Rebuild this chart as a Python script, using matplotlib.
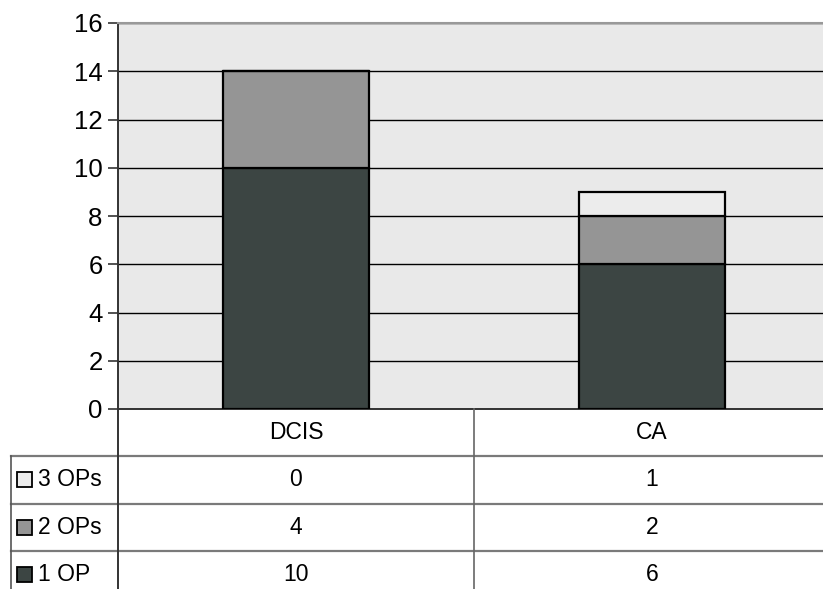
import matplotlib
matplotlib.use("Agg")
import matplotlib.pyplot as plt
from matplotlib.patches import Rectangle
import numpy as np

plt.rcParams['font.family'] = ['Liberation Sans', 'DejaVu Sans']

categories = ["DCIS", "CA"]
series_names = ["1 OP", "2 OPs", "3 OPs"]
one_op = [10, 6]
two_ops = [4, 2]
three_ops = [0, 1]
series_values = [one_op, two_ops, three_ops]
series_colors = ["#3c4543", "#959595", "#ececec"]
y_ticks = [0, 2, 4, 6, 8, 10, 12, 14, 16]

W, H = 823, 589
fig = plt.figure(figsize=(W / 100, H / 100), dpi=100)

# plot area spans two category slots of 356 px each
left_px, slot_px = 118, 356
top_px, zero_px = 23, 409
ax = fig.add_axes([left_px / W, (H - zero_px) / H, 2 * slot_px / W, (zero_px - top_px) / H])
ax.set_facecolor("#e9e9e9")
ax.set_xlim(-0.5, 1.5)
ax.set_ylim(0, 16)
ax.set_yticks(y_ticks)
ax.set_yticklabels([str(t) for t in y_ticks], fontsize=18.5)
ax.set_xticks([])
ax.yaxis.grid(True, color="black", linewidth=1.0)
ax.set_axisbelow(True)
ax.tick_params(axis="y", length=7, width=1.2, color="#333333", pad=4)
ax.spines["right"].set_visible(False)
ax.spines["top"].set_color("#999999")
ax.spines["top"].set_linewidth(1.5)
ax.spines["left"].set_color("#333333")
ax.spines["left"].set_linewidth(1.4)
ax.spines["bottom"].set_color("#333333")
ax.spines["bottom"].set_linewidth(1.4)

x = np.arange(len(categories))
bottom = np.zeros(len(categories))
for vals, color, name in zip(series_values, series_colors, series_names):
    ax.bar(x, vals, width=0.41, bottom=bottom, color=color, edgecolor="black",
           linewidth=1.6, label=name, zorder=3)
    bottom += np.array(vals)

# data table beneath the chart
row_px = 47.25
tab = fig.add_axes([left_px / W, (H - (zero_px + 4 * row_px)) / H, 2 * slot_px / W, 4 * row_px / H])
tab.set_xlim(-0.5, 1.5)
tab.set_ylim(4, 0)
tab.axis("off")

label_left = -0.5 - (left_px - 11) / slot_px
hcol = "#7a7a7a"
for r in (1, 2, 3):
    tab.plot([label_left, 1.5], [r, r], color=hcol, lw=1.6, clip_on=False)
tab.plot([-0.5, -0.5], [0, 4], color="#333333", lw=1.4, clip_on=False)
tab.plot([0.5, 0.5], [0, 4], color="#666666", lw=1.2, clip_on=False)
tab.plot([label_left, label_left], [1, 4], color="#555555", lw=1.2, clip_on=False)

for i, cat in enumerate(categories):
    tab.text(i, 0.5, cat, ha="center", va="center", fontsize=16.5)

table_rows = list(zip(series_names, series_values, series_colors))[::-1]
sq = 15 / slot_px
for r, (name, vals, color) in enumerate(table_rows, start=1):
    for i, v in enumerate(vals):
        tab.text(i, r + 0.5, str(v), ha="center", va="center", fontsize=16.5)
    sx = label_left + 6 / slot_px
    tab.add_patch(Rectangle((sx, r + 0.5 - 15 / row_px / 2), sq, 15 / row_px, facecolor=color,
                            edgecolor="black", lw=1.3, clip_on=False))
    tab.text(sx + sq + 6 / slot_px, r + 0.5, name, ha="left", va="center", fontsize=16.5)

fig.savefig("out.png", dpi=100)
